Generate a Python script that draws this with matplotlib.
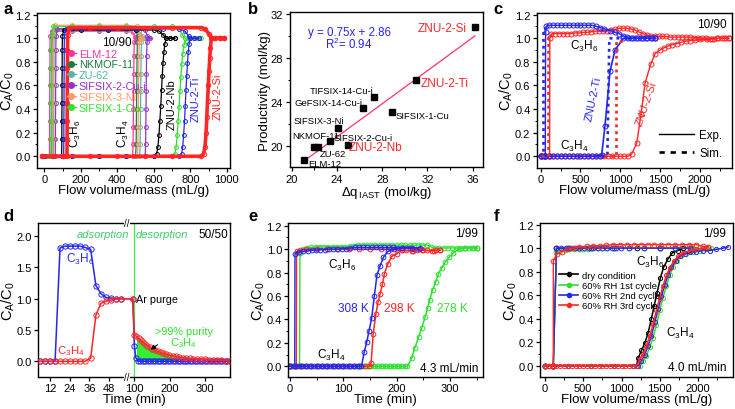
import numpy as np
import matplotlib
matplotlib.use("Agg")
import matplotlib.pyplot as plt
from matplotlib.lines import Line2D
from matplotlib.ticker import MultipleLocator, FixedLocator, NullLocator

plt.rcParams["font.family"] = ["Liberation Sans", "DejaVu Sans"]
plt.rcParams["mathtext.fontset"] = "custom"
plt.rcParams["mathtext.rm"] = "Liberation Sans"
plt.rcParams["mathtext.it"] = "Liberation Sans:italic"
plt.rcParams["mathtext.default"] = "regular"

RED = "#ff2626"
BLUE = "#2525ee"
GREEN = "#2ee02e"
PINK = "#ff3399"
DKGREEN = "#1d7b3f"
TEAL = "#5bb3a8"
PURPLE = "#9632c8"
ORANGE = "#ff9a66"
ADS_GREEN = "#3dcc6a"

C3H6 = "C$_3$H$_6$"
C3H4 = "C$_3$H$_4$"
CAC0 = "C$_A$/C$_0$"

# ---------------- panel a : breakthrough curves, 10/90 ----------------
a_names = ["ELM-12", "NKMOF-11", "ZU-62", "SIFSIX-2-Cu-i", "SIFSIX-3-Ni", "SIFSIX-1-Cu"]

a_elm_x6 = [0, 15, 28, 29, 29, 30, 30, 31, 31, 32, 40, 150, 300, 450, 485, 495, 505]
a_elm_y6 = [0, 0, 0, 0.15, 0.3, 0.45, 0.6, 0.75, 0.9, 1.02, 1.06, 1.06, 1.06, 1.06, 1.05, 1.01, 1.0]
a_elm_x4 = [0, 150, 300, 450, 484, 486, 487, 488, 489, 490, 491, 493, 500, 510]
a_elm_y4 = [0, 0, 0, 0, 0, 0.1, 0.25, 0.4, 0.55, 0.7, 0.85, 0.97, 1.0, 1.0]

a_nk_x6 = [0, 20, 40, 41, 41, 42, 42, 43, 43, 44, 52, 150, 300, 450, 500, 512, 520]
a_nk_y6 = [0, 0, 0, 0.15, 0.3, 0.45, 0.6, 0.75, 0.9, 1.02, 1.08, 1.08, 1.08, 1.08, 1.07, 1.02, 1.0]
a_nk_x4 = [0, 150, 300, 450, 500, 503, 504, 505, 506, 507, 508, 510, 516, 525]
a_nk_y4 = [0, 0, 0, 0, 0, 0.1, 0.25, 0.4, 0.55, 0.7, 0.85, 0.97, 1.0, 1.0]

a_zu_x6 = [0, 20, 50, 51, 51, 52, 52, 53, 53, 54, 62, 150, 300, 450, 520, 535, 545]
a_zu_y6 = [0, 0, 0, 0.15, 0.3, 0.45, 0.6, 0.75, 0.9, 1.02, 1.07, 1.07, 1.07, 1.07, 1.06, 1.02, 1.0]
a_zu_x4 = [0, 150, 300, 450, 522, 525, 526, 527, 528, 529, 530, 532, 540, 550]
a_zu_y4 = [0, 0, 0, 0, 0, 0.1, 0.25, 0.4, 0.55, 0.7, 0.85, 0.97, 1.0, 1.0]

a_s2_x6 = [0, 30, 60, 61, 61, 62, 62, 63, 63, 64, 72, 150, 300, 450, 550, 565, 575]
a_s2_y6 = [0, 0, 0, 0.15, 0.3, 0.45, 0.6, 0.75, 0.9, 1.02, 1.08, 1.08, 1.08, 1.08, 1.07, 1.02, 1.0]
a_s2_x4 = [0, 150, 300, 450, 552, 555, 556, 557, 558, 559, 560, 563, 570, 580]
a_s2_y4 = [0, 0, 0, 0, 0, 0.1, 0.25, 0.4, 0.55, 0.7, 0.85, 0.97, 1.0, 1.0]

a_s3_x6 = [0, 20, 44, 45, 45, 46, 46, 47, 47, 48, 56, 150, 300, 450, 510, 522, 530]
a_s3_y6 = [0, 0, 0, 0.15, 0.3, 0.45, 0.6, 0.75, 0.9, 1.04, 1.11, 1.11, 1.11, 1.11, 1.1, 1.03, 1.0]
a_s3_x4 = [0, 150, 300, 450, 510, 513, 514, 515, 516, 517, 518, 520, 526, 535]
a_s3_y4 = [0, 0, 0, 0, 0, 0.1, 0.25, 0.4, 0.55, 0.7, 0.85, 0.97, 1.0, 1.0]

a_s1_x6 = [0, 20, 36, 37, 37, 38, 38, 39, 39, 40, 48, 150, 300, 450, 600, 700, 740, 755, 770, 790]
a_s1_y6 = [0, 0, 0, 0.15, 0.3, 0.45, 0.6, 0.75, 0.9, 1.03, 1.1, 1.1, 1.1, 1.1, 1.1, 1.1, 1.08, 1.03, 1.0, 1.0]
a_s1_x4 = [0, 150, 300, 450, 600, 700, 715, 722, 728, 733, 738, 743, 748, 753, 758, 765, 775, 800, 830, 860]
a_s1_y4 = [0, 0, 0, 0, 0, 0, 0.02, 0.08, 0.18, 0.3, 0.42, 0.55, 0.67, 0.78, 0.87, 0.94, 0.98, 1.0, 1.0, 1.0]

a_nb_x6 = [0, 50, 95, 96, 96, 97, 97, 98, 98, 99, 106, 200, 350, 500, 600, 630, 650, 668, 690, 715]
a_nb_y6 = [0, 0, 0, 0.15, 0.3, 0.45, 0.6, 0.75, 0.9, 1.02, 1.07, 1.07, 1.07, 1.07, 1.07, 1.06, 1.03, 1.0, 1.0, 1.0]
a_nb_x4 = [0, 150, 300, 450, 600, 615, 622, 628, 633, 638, 642, 646, 650, 655, 660, 668, 690, 715]
a_nb_y4 = [0, 0, 0, 0, 0, 0.02, 0.08, 0.18, 0.3, 0.43, 0.56, 0.68, 0.79, 0.88, 0.95, 1.0, 1.0, 1.0]

a_ti_x6 = [0, 50, 106, 107, 107, 108, 108, 109, 109, 110, 118, 200, 350, 500, 650, 740, 770, 790, 800, 820, 845]
a_ti_y6 = [0, 0, 0, 0.15, 0.3, 0.45, 0.6, 0.75, 0.9, 1.02, 1.08, 1.08, 1.08, 1.08, 1.08, 1.08, 1.06, 1.02, 1.0, 1.0, 1.0]
a_ti_x4 = [0, 150, 300, 450, 600, 740, 752, 758, 763, 768, 772, 776, 780, 784, 788, 793, 800, 820, 845]
a_ti_y4 = [0, 0, 0, 0, 0, 0, 0.02, 0.08, 0.18, 0.3, 0.43, 0.56, 0.68, 0.79, 0.88, 0.95, 1.0, 1.0, 1.0]

a_si_x6 = [-10, 50, 100, 124, 125, 125, 126, 126, 127, 127, 128, 136, 250, 400, 550, 700, 860, 880, 900, 918, 935, 960, 985]
a_si_y6 = [0, 0, 0, 0, 0.15, 0.3, 0.45, 0.6, 0.75, 0.9, 1.03, 1.09, 1.09, 1.09, 1.09, 1.09, 1.09, 1.08, 1.04, 1.0, 1.0, 1.0, 1.0]
a_si_x4 = [-10, 100, 250, 400, 550, 700, 860, 872, 880, 886, 890, 894, 898, 902, 906, 910, 915, 935, 960, 985]
a_si_y4 = [0, 0, 0, 0, 0, 0, 0, 0.02, 0.08, 0.2, 0.33, 0.47, 0.6, 0.72, 0.83, 0.92, 1.0, 1.0, 1.0, 1.0]

# ---------------- panel b : productivity vs uptake difference ----------------
b_names = ["ELM-12", "NKMOF-11", "ZU-62", "SIFSIX-2-Cu-i", "SIFSIX-3-Ni", "ZNU-2-Nb",
           "GeFSIX-14-Cu-i", "TIFSIX-14-Cu-i", "SIFSIX-1-Cu", "ZNU-2-Ti", "ZNU-2-Si"]
b_dq = [21.1, 22.0, 22.35, 23.35, 24.1, 24.95, 26.3, 27.3, 28.9, 31.0, 36.2]
b_prod = [18.75, 19.95, 19.9, 20.45, 21.7, 20.15, 23.5, 24.5, 23.1, 26.0, 30.8]
b_slope = 0.75
b_intercept = 2.86
b_r2 = 0.94

# ---------------- panel c : experiment vs simulation ----------------
c_ti_x6 = [0, 25, 50, 58, 62, 70, 100, 150, 200, 250, 300, 350, 400, 450, 500, 550, 600, 650,
           700, 750, 800, 870, 930, 980, 1040, 1080, 1140, 1200, 1260, 1320, 1380, 1440]
c_ti_y6 = [0, 0, 0, 0, 1.05, 1.1, 1.11, 1.11, 1.11, 1.11, 1.11, 1.11, 1.11, 1.11, 1.11, 1.11, 1.11, 1.11,
           1.1, 1.09, 1.08, 1.065, 1.05, 1.04, 1.02, 1.01, 1.0, 1.0, 1.0, 1.0, 1.0, 1.0]
c_ti_x4 = [0, 50, 100, 150, 200, 250, 300, 350, 400, 450, 500, 550, 600, 650, 700, 740,
           766, 808, 871, 933, 1038, 1100, 1160, 1220, 1280, 1340, 1400, 1440]
c_ti_y4 = [0, 0, 0, 0, 0, 0, 0, 0, 0, 0, 0, 0, 0, 0, 0, 0,
           0.01, 0.26, 0.72, 0.9, 1.0, 1.0, 1.0, 1.0, 1.0, 1.0, 1.0, 1.0]
c_si_x6 = [0, 50, 100, 112, 115, 134,
           180, 230, 280, 330, 380, 430, 480, 530, 580, 630,
           680, 730, 780, 830, 880, 930, 980, 1030, 1080, 1130,
           1180, 1230, 1280, 1330, 1380, 1430, 1480, 1530, 1580, 1630,
           1680, 1730, 1780, 1830, 1880, 1930, 1980, 2030, 2080, 2130,
           2180, 2230, 2280, 2330, 2360]
c_si_y6 = [0, 0, 0, 0, 1.0, 1.037,
           1.04, 1.04, 1.04, 1.04, 1.04, 1.045, 1.045, 1.05, 1.05, 1.055,
           1.06, 1.06, 1.065, 1.065, 1.07, 1.075, 1.085, 1.085, 1.085, 1.08,
           1.07, 1.055, 1.04, 1.03, 1.02, 1.02, 1.015, 1.015, 1.015, 1.01,
           1.01, 1.01, 1.01, 1.01, 1.01, 1.005, 1.005, 1.0, 1.0, 0.995,
           0.995, 1.0, 1.0, 1.0, 1.0]
c_si_x4 = [0, 50, 100, 150, 200, 250, 300, 350, 400, 450, 500, 550, 600, 650, 700, 750, 800, 850,
           900, 950, 1000, 1050, 1100,
           1143, 1206, 1261, 1311, 1382, 1437, 1500, 1550, 1600, 1650, 1710, 1760, 1820, 1878,
           1940, 2000, 2088, 2150, 2220, 2298, 2360]
c_si_y4 = [0, 0, 0, 0, 0, 0, 0, 0, 0, 0, 0, 0, 0, 0, 0, 0, 0, 0,
           0, 0, 0, 0, 0,
           0.02, 0.11, 0.36, 0.62, 0.78, 0.87, 0.9, 0.92, 0.935, 0.945, 0.955, 0.965, 0.975, 0.98,
           0.985, 0.99, 0.99, 0.995, 1.0, 1.0, 1.0]
c_ti_sim_x6 = [0, 35, 35, 120]
c_ti_sim_y6 = [0, 0, 1.09, 1.09]
c_si_sim_x6 = [0, 88, 88, 140]
c_si_sim_y6 = [0, 0, 1.03, 1.03]
c_ti_sim_x4 = [600, 838, 862, 1000]
c_ti_sim_y4 = [0, 0, 1.0, 1.0]
c_si_sim_x4 = [800, 945, 945, 1050]
c_si_sim_y4 = [0, 0, 0.98, 0.98]

# ---------------- panel d : cycle with Ar purge, 50/50 ----------------
d_t6 = [5.9, 9.0, 12.0, 15.1, 18.1, 21.1, 24.2, 27.2, 30.3, 33.3, 36.8, 40.0, 43.1, 46.1, 49.2, 52.2, 55.3,
        95.5, 100, 104, 110, 117, 124, 131, 138, 145, 152, 159, 166, 173, 180, 187, 194, 201, 208,
        215, 222, 229, 236, 243, 250, 257, 264, 271, 278, 285, 292, 299, 306, 313, 320, 327, 334,
        341, 348, 355, 362, 369]
d_y6 = [0, 0, 0, 0, 1.81, 1.84, 1.84, 1.84, 1.84, 1.82, 1.79, 1.21, 1.08, 1.02, 1.01, 1.0, 1.0,
        1.0, 0.25, 0.06, 0.01, 0, 0, 0, 0, 0, 0, 0, 0, 0, 0, 0, 0, 0, 0,
        0, 0, 0, 0, 0, 0, 0, 0, 0, 0, 0, 0, 0, 0, 0, 0, 0, 0,
        0, 0, 0, 0, 0]
d_t4 = [5.9, 9.0, 12.0, 15.1, 18.1, 21.1, 24.2, 27.2, 30.3, 33.3, 36.8, 40.0, 43.1, 46.1, 49.2, 52.2, 55.3,
        95.5, 100, 106, 112, 118, 124, 130, 137, 144, 151, 158, 166, 174, 182, 190, 199, 208,
        217, 226, 236, 246, 256, 266, 277, 288, 299, 310, 322, 334, 346, 358, 370]
d_y4 = [0, 0, 0, 0, 0, 0, 0, 0, 0, 0, 0.05, 0.74, 0.93, 0.96, 0.98, 0.995, 1.0,
        1.0, 0.42, 0.40, 0.37, 0.34, 0.31, 0.28, 0.25, 0.225, 0.20, 0.18, 0.16, 0.145, 0.13, 0.115, 0.10, 0.09,
        0.08, 0.07, 0.06, 0.055, 0.05, 0.045, 0.04, 0.035, 0.03, 0.025, 0.02, 0.018, 0.015, 0.012, 0.01]
d_purge_t = 97.8
d_pure_from = 104
d_pure_to = 230

# ---------------- panel e : temperature, 1/99 ----------------
e_b_x6 = [0, 9, 9.5, 17, 25, 33, 41, 49, 57, 65, 73, 81, 89, 97, 105, 113, 121, 129, 137, 145, 153,
          161, 169, 177, 185, 193, 201, 209, 217, 225, 233, 241]
e_b_y6 = [0, 0, 0.96, 0.975, 0.98, 0.985, 0.99, 0.99, 0.995, 0.995, 1.0, 1.0, 1.0, 1.005, 1.005, 1.01,
          1.015, 1.015, 1.015, 1.015, 1.015, 1.015, 1.015, 1.015, 1.015, 1.015,
          1.01, 1.01, 1.01, 1.01, 1.0, 1.0]
e_b_x4 = [0, 5, 10, 15, 20, 25, 30, 35, 40, 45, 50, 55, 60, 65, 70, 75, 80, 85, 90, 95, 100, 105,
          110, 115, 120, 125, 130, 134, 139, 144, 148, 153, 158, 163, 169, 175, 183, 194, 209, 228, 244]
e_b_y4 = [0, 0, 0, 0, 0, 0, 0, 0, 0, 0, 0, 0, 0, 0, 0, 0, 0, 0, 0, 0, 0, 0,
          0, 0, 0, 0, 0, 0, 0.12, 0.21, 0.3, 0.41, 0.6, 0.78, 0.86, 0.93, 0.98, 1.0, 1.01, 1.01, 1.01]
e_r_x6 = [0, 12, 12.5, 18, 30, 50, 70, 90, 110, 130, 150, 170, 190, 210, 230, 250, 270, 281]
e_r_y6 = [0, 0, 0.98, 0.99, 1.0, 1.0, 1.0, 1.0, 1.0, 1.0, 1.0, 1.0, 1.0, 0.99, 0.985, 0.99, 0.985, 0.99]
e_r_x4 = [0, 10, 20, 30, 40, 50, 60, 70, 80, 90, 100, 110, 120, 130, 140, 148,
          152, 156, 161, 165, 169, 173, 177, 183, 191, 200, 209, 218, 228, 237, 247, 256, 266, 274, 281]
e_r_y4 = [0, 0, 0, 0, 0, 0, 0, 0, 0, 0, 0, 0, 0, 0, 0, 0,
          0.03, 0.28, 0.45, 0.55, 0.62, 0.7, 0.79, 0.87, 0.94, 0.96, 0.99, 0.99, 0.985, 0.99, 0.995,
          0.99, 0.985, 0.99, 0.99]
e_g_x6 = [0, 18, 18.8, 24, 32, 40, 48, 56, 64, 72, 80, 88, 96, 104, 112, 120, 128, 136, 144, 152, 160,
          168, 176, 184, 192, 200, 208, 216, 224, 232, 240, 248, 256, 264, 272, 280, 288, 296, 304,
          312, 320, 328, 336, 344, 350]
e_g_y6 = [0, 0, 0.97, 1.0, 1.01, 1.015, 1.02, 1.02, 1.02, 1.02, 1.02, 1.02, 1.02, 1.02, 1.025, 1.03,
          1.035, 1.035, 1.035, 1.035, 1.035, 1.035, 1.035, 1.035, 1.035, 1.035, 1.035, 1.035, 1.035,
          1.035, 1.035, 1.035, 1.035, 1.02, 1.01, 1.01, 1.01, 1.01, 1.01, 1.01, 1.01, 1.01, 1.01, 1.01, 1.01]
e_g_x4 = [0, 10, 20, 30, 40, 50, 60, 70, 80, 90, 100, 110, 120, 130,
          135, 140, 145, 150, 155, 160, 165, 170, 175, 180, 185, 190, 195, 200, 205, 210, 215,
          220, 228, 234, 241, 247, 253, 258, 262, 267, 273, 278, 284, 291, 298, 306, 316, 328, 340, 350]
e_g_y4 = [0, 0, 0, 0, 0, 0, 0, 0, 0, 0, 0, 0, 0, 0,
          0, 0, 0, 0, 0, 0, 0, 0, 0, 0, 0, 0, 0, 0, 0, 0, 0,
          0, 0.07, 0.16, 0.25, 0.33, 0.42, 0.5, 0.57, 0.65, 0.72, 0.79, 0.84, 0.89, 0.93, 0.97, 1.0,
          1.01, 1.01, 1.01]
e_labels = ["308 K", "298 K", "278 K"]

# ---------------- panel f : humidity cycles, 1/99 ----------------
f_labels = ["dry condition", "60% RH 1st cycle", "60% RH 2nd cycle", "60% RH 3rd cycle"]
f_k_x6 = [0, 100, 109, 150, 300, 600, 900, 1200, 1500, 1800, 1913]
f_k_y6 = [0, 0, 0, 1.0, 1.0, 1.0, 1.0, 1.0, 1.0, 1.0, 1.0]
f_k_x4 = [0, 300, 600, 900, 1150, 1196, 1217, 1261, 1304, 1348, 1391, 1426, 1465, 1509, 1552,
          1609, 1665, 1739, 1804, 1913]
f_k_y4 = [0, 0, 0, 0, 0, 0, 0.065, 0.13, 0.19, 0.28, 0.4, 0.51, 0.62, 0.75, 0.84,
          0.91, 0.96, 0.98, 1.0, 1.0]
f_g_x6 = [0, 100, 109, 150, 200, 260, 320, 380, 440, 500, 560, 620, 680, 740, 800, 900, 1100,
          1300, 1500, 1700, 1900, 2100]
f_g_y6 = [0, 0, 0, 0.97, 0.98, 0.985, 0.99, 0.99, 0.99, 0.995, 0.995, 1.0, 1.0, 1.0, 1.0, 1.0, 1.0,
          1.0, 1.0, 1.0, 1.0, 1.0]
f_g_x4 = [0, 300, 600, 900, 1150, 1239, 1283, 1326, 1370, 1413, 1457, 1500, 1543, 1587, 1630,
          1674, 1726, 1783, 1848, 1935, 2022, 2109, 2174]
f_g_y4 = [0, 0, 0, 0, 0, 0, 0.04, 0.085, 0.16, 0.24, 0.35, 0.47, 0.58, 0.68, 0.77,
          0.84, 0.89, 0.93, 0.95, 0.97, 0.98, 0.99, 1.0]
f_b_x6 = [0, 100, 109, 150, 210, 270, 330, 390, 450, 510, 570, 630, 690, 750, 810, 870, 930, 990,
          1100, 1300, 1500, 1700, 1900]
f_b_y6 = [0, 0, 0, 1.0, 1.0, 1.0, 1.0, 1.0, 1.0, 1.0, 1.0, 1.0, 1.0, 1.0, 1.0, 1.0, 1.0, 1.0,
          1.0, 1.0, 1.0, 1.0, 1.0]
f_b_x4 = [0, 300, 600, 900, 1150, 1217, 1261, 1304, 1348, 1391, 1435, 1478, 1522, 1565, 1609,
          1652, 1709, 1761, 1826, 1891, 1978, 2065, 2152, 2239, 2326, 2391]
f_b_y4 = [0, 0, 0, 0, 0, 0, 0.043, 0.094, 0.17, 0.255, 0.37, 0.48, 0.59, 0.69, 0.77,
          0.84, 0.89, 0.93, 0.95, 0.965, 0.97, 0.98, 0.98, 0.99, 1.0, 1.01]
f_r_x6 = [0, 50, 100, 109, 109, 152, 217, 283, 370, 450, 543, 630, 717, 800, 891, 980, 1070, 1160,
          1250, 1340, 1430, 1520, 1610, 1700, 1790, 1880, 1978, 2065, 2130]
f_r_y6 = [0, 0, 0, 0, 0.89, 0.95, 0.97, 0.99, 1.0, 1.01, 1.015, 1.02, 1.02, 1.025, 1.03, 1.03, 1.03,
          1.03, 1.03, 1.03, 1.03, 1.03, 1.03, 1.03, 1.03, 1.03, 1.03, 1.015, 1.01]
f_r_x4 = [0, 50, 100, 150, 200, 250, 300, 350, 400, 450, 500, 550, 600, 650, 700, 750, 800, 850,
          900, 950, 1000, 1050, 1100, 1150,
          1196, 1239, 1283, 1326, 1370, 1413, 1457, 1500, 1543, 1587, 1630, 1683, 1739, 1804,
          1891, 1978, 2065, 2130]
f_r_y4 = [0, 0, 0, 0, 0, 0, 0, 0, 0, 0, 0, 0, 0, 0, 0, 0, 0, 0,
          0, 0, 0, 0, 0, 0,
          0, 0.057, 0.1, 0.17, 0.255, 0.355, 0.47, 0.58, 0.68, 0.77, 0.83, 0.89, 0.93, 0.96,
          0.98, 0.99, 1.0, 1.01]


W, H = 735, 410
fig = plt.figure(figsize=(W / 100, H / 100), dpi=100)


def add_panel(left, right, top, bottom):
    return fig.add_axes([left / W, 1 - bottom / H, (right - left) / W, (bottom - top) / H])


def style(ax):
    for s in ax.spines.values():
        s.set_linewidth(1.0)
    ax.tick_params(direction="out", length=3, width=0.9, labelsize=8, pad=1.5)
    ax.tick_params(which="minor", direction="out", length=1.8, width=0.7)


def curve(ax, x, y, color, lw=0.9, ms=3.0, mfc="none", z=2, mew=0.7):
    ax.plot(x, y, "-", color=color, lw=lw, marker="o", ms=ms, mfc=mfc, mew=mew, zorder=z)


def ylab(ax, text, xpos, size=10.5):
    ax.set_ylabel(text, fontsize=size)
    ax.yaxis.set_label_coords(xpos, 0.5)


def xlab(ax, text):
    ax.set_xlabel(text, fontsize=9.5, labelpad=0)


def letter(x, y, s):
    fig.text(x / W, 1 - y / H, s, fontsize=12, fontweight="bold", ha="left", va="center")


# ---------- a ----------
ax = add_panel(37, 230, 14, 168.5)
style(ax)
a_curves = [
    (a_elm_x6, a_elm_y6, a_elm_x4, a_elm_y4, PINK),
    (a_nk_x6, a_nk_y6, a_nk_x4, a_nk_y4, DKGREEN),
    (a_zu_x6, a_zu_y6, a_zu_x4, a_zu_y4, TEAL),
    (a_s2_x6, a_s2_y6, a_s2_x4, a_s2_y4, PURPLE),
    (a_s3_x6, a_s3_y6, a_s3_x4, a_s3_y4, ORANGE),
    (a_s1_x6, a_s1_y6, a_s1_x4, a_s1_y4, GREEN),
    (a_nb_x6, a_nb_y6, a_nb_x4, a_nb_y4, "k"),
    (a_ti_x6, a_ti_y6, a_ti_x4, a_ti_y4, BLUE),
]
for x6, y6, x4, y4, c in a_curves:
    curve(ax, x6, y6, c, lw=0.9, ms=2.8)
    curve(ax, x4, y4, c, lw=0.9, ms=2.8)
curve(ax, a_si_x6, a_si_y6, RED, lw=2.6, ms=3.2, z=5)
curve(ax, a_si_x4, a_si_y4, RED, lw=2.6, ms=3.2, z=5)
handles = [Line2D([], [], color=c, marker="o", ms=4, lw=1)
           for c in [PINK, DKGREEN, TEAL, PURPLE, ORANGE, GREEN]]
leg = ax.legend(handles, a_names, loc="upper left", bbox_to_anchor=(0.155, 0.77), frameon=False,
                fontsize=7.8, handlelength=0.8, handletextpad=0.3, labelspacing=0.08,
                borderpad=0, borderaxespad=0, labelcolor="linecolor")
leg.set_zorder(6)
ax.text(480, 0.97, "10/90", ha="right", va="center", fontsize=8.5)
ax.text(168, 0.2, C3H6, rotation=90, ha="center", va="center", fontsize=8.5)
ax.text(433, 0.2, C3H4, rotation=90, ha="center", va="center", fontsize=8.5)
ax.text(695, 0.45, "ZNU-2-Nb", rotation=90, ha="center", va="center", fontsize=8, color="k")
ax.text(828, 0.49, "ZNU-2-Ti", rotation=90, ha="center", va="center", fontsize=8, color=BLUE)
ax.text(950, 0.51, "ZNU-2-Si", rotation=90, ha="center", va="center", fontsize=8, color=RED)
ax.set_xlim(-40, 1017)
ax.set_ylim(-0.095, 1.214)
ax.xaxis.set_major_locator(MultipleLocator(200))
ax.xaxis.set_minor_locator(MultipleLocator(100))
ax.yaxis.set_major_locator(MultipleLocator(0.2))
ax.yaxis.set_minor_locator(MultipleLocator(0.1))
xlab(ax, "Flow volume/mass (mL/g)")
ylab(ax, CAC0, -0.109)
letter(3, 10, "a")

# ---------- b ----------
ax = add_panel(289.5, 483.3, 13.3, 168.3)
style(ax)
xf = np.array([min(b_dq), max(b_dq)])
ax.plot(xf, b_slope * xf + b_intercept, color="#ff3366", lw=0.9, zorder=2)
ax.plot(b_dq, b_prod, "s", color="k", ms=3.8, zorder=3)
b_label_pos = [(21.45, 18.42), (20.0, 20.97), (22.5, 19.37), (23.74, 20.82), (20.2, 22.33), (25.05, 19.95),
               (20.2, 24.0), (21.56, 25.05), (29.15, 22.8), (31.4, 25.75), (31.15, 30.7)]
for name, (tx, ty) in zip(b_names, b_label_pos):
    if name.startswith("ZNU"):
        ax.text(tx, ty, name, color=RED, fontsize=8.5, ha="left", va="center")
    else:
        ax.text(tx, ty, name, color="k", fontsize=6.8, ha="left", va="center")
ax.text(21.45, 30.4, f"y = {b_slope:.2f}x + {b_intercept:.2f}", color=BLUE, fontsize=8.3,
        ha="left", va="center")
ax.text(22.95, 29.3, f"R$^2$= {b_r2:.2f}", color=BLUE, fontsize=8.3, ha="left", va="center")
ax.set_xlim(19.8, 36.94)
ax.set_ylim(18.1, 32.15)
ax.xaxis.set_major_locator(MultipleLocator(4))
ax.xaxis.set_minor_locator(MultipleLocator(2))
ax.yaxis.set_major_locator(MultipleLocator(4))
ax.yaxis.set_minor_locator(MultipleLocator(2))
xlab(ax, "$\\Delta$q$_{\\,IAST}$ (mol/kg)")
ylab(ax, "Productivity (mol/kg)", -0.093, size=9.5)
letter(248, 9, "b")

# ---------- c ----------
ax = add_panel(536.7, 732, 14, 168.5)
style(ax)
dots = (0, (1.1, 1.5))
for sx, sy, c in [(c_ti_sim_x6, c_ti_sim_y6, BLUE), (c_si_sim_x6, c_si_sim_y6, RED),
                  (c_ti_sim_x4, c_ti_sim_y4, BLUE), (c_si_sim_x4, c_si_sim_y4, RED)]:
    ax.plot(sx, sy, color=c, lw=1.9, ls=dots, zorder=3)
curve(ax, c_si_x6, c_si_y6, RED, lw=1.0, ms=3.6)
curve(ax, c_si_x4, c_si_y4, RED, lw=1.0, ms=3.6)
curve(ax, c_ti_x6, c_ti_y6, BLUE, lw=1.0, ms=3.6)
curve(ax, c_ti_x4, c_ti_y4, BLUE, lw=1.2, ms=3.6)
ax.legend([Line2D([], [], color="k", lw=1.0), Line2D([], [], color="k", lw=1.9, ls=(0, (2, 2.2)))],
          ["Exp.", "Sim."], loc="lower right", bbox_to_anchor=(0.98, 0.02), frameon=False,
          fontsize=8.3, handlelength=3.0, handletextpad=0.5, labelspacing=0.5, borderpad=0)
ax.text(2340, 1.12, "10/90", ha="right", va="center", fontsize=8.5)
ax.text(368, 0.94, C3H6, ha="left", va="center", fontsize=8.5)
ax.text(243, 0.09, C3H4, ha="left", va="center", fontsize=8.5)
ax.text(668, 0.49, "ZNU-2-Ti", rotation=78, ha="center", va="center", fontsize=8, color=BLUE)
ax.text(1331, 0.45, "ZNU-2-Si", rotation=71, ha="center", va="center", fontsize=8, color=RED)
ax.set_xlim(-50, 2403)
ax.set_ylim(-0.095, 1.214)
ax.xaxis.set_major_locator(MultipleLocator(500))
ax.xaxis.set_minor_locator(MultipleLocator(250))
ax.yaxis.set_major_locator(MultipleLocator(0.2))
ax.yaxis.set_minor_locator(MultipleLocator(0.1))
xlab(ax, "Flow volume/mass (mL/g)")
ylab(ax, CAC0, -0.109)
letter(493, 9, "c")

# ---------- d (broken time axis) ----------
T1, T2, RATIO = 58.8, 78.5, 0.216


def fwd(t):
    t = np.asarray(t, dtype=float)
    return np.where(t <= T1, t, np.where(t >= T2, T1 + (t - T2) * RATIO, T1))


def inv(u):
    u = np.asarray(u, dtype=float)
    return np.where(u <= T1, u, T2 + (u - T1) / RATIO)


ax = add_panel(38, 230, 224, 378)
style(ax)
ax.set_xscale("function", functions=(fwd, inv))
t4 = np.array(d_t4)
y4 = np.array(d_y4)
m = (t4 >= d_pure_from) & (t4 <= d_pure_to)
ax.fill_between(t4[m], 0, y4[m], color="#33ee33", lw=0, zorder=1)
ax.axvline(d_purge_t, color="#44ee44", lw=0.9, zorder=1)
curve(ax, d_t6, d_y6, BLUE, lw=1.1, ms=3.8)
curve(ax, d_t4, d_y4, RED, lw=1.1, ms=3.8, z=3)
ax.set_xlim(4.68, 370)
ax.set_ylim(-0.25, 2.21)
ax.xaxis.set_major_locator(FixedLocator([12, 24, 36, 48, 100, 200, 300]))
ax.xaxis.set_minor_locator(NullLocator())
ax.yaxis.set_major_locator(MultipleLocator(0.5))
for yy in (0, 1):
    ax.text(T1, yy, "//", transform=ax.get_xaxis_transform(), ha="center", va="center",
            fontsize=7, bbox=dict(fc="white", ec="none", pad=0.2), zorder=10, clip_on=False)
ax.text(44.5, 2.04, "adsorption", color=ADS_GREEN, fontstyle="italic", fontsize=8,
        ha="center", va="center")
ax.text(177, 2.04, "desorption", color=ADS_GREEN, fontstyle="italic", fontsize=8,
        ha="center", va="center")
ax.text(364, 2.04, "50/50", ha="right", va="center", fontsize=8.5)
ax.text(21.8, 1.64, C3H6, color=BLUE, ha="left", va="center", fontsize=8.5, zorder=6)
ax.text(16.5, 0.18, C3H4, color=RED, ha="left", va="center", fontsize=8.2, zorder=6)
ax.text(104, 1.0, "Ar purge", ha="left", va="center", fontsize=7.8)
ax.text(158, 0.48, ">99% purity", color=GREEN, ha="left", va="center", fontsize=7.8)
ax.text(200, 0.30, C3H4, color=GREEN, ha="left", va="center", fontsize=8)
ax.annotate("", xy=(139, 0.16), xytext=(172, 0.29),
            arrowprops=dict(arrowstyle="-|>", color="k", lw=0.8, mutation_scale=7))
xlab(ax, "Time (min)")
ylab(ax, CAC0, -0.109)
letter(3, 217, "d")

# ---------- e ----------
ax = add_panel(288.3, 483.3, 224, 378)
style(ax)
curve(ax, e_g_x6, e_g_y6, GREEN, lw=1.0, ms=3.4)
curve(ax, e_r_x6, e_r_y6, RED, lw=1.0, ms=3.4)
curve(ax, e_b_x6, e_b_y6, BLUE, lw=1.0, ms=3.4)
curve(ax, e_g_x4, e_g_y4, GREEN, lw=1.1, ms=3.4)
curve(ax, e_r_x4, e_r_y4, RED, lw=1.1, ms=3.4)
curve(ax, e_b_x4, e_b_y4, BLUE, lw=1.1, ms=3.4)
ax.text(352, 1.137, "1/99", ha="right", va="center", fontsize=8.5)
ax.text(72, 0.87, C3H6, ha="left", va="center", fontsize=8.5)
ax.text(50, 0.105, C3H4, ha="left", va="center", fontsize=8.5)
for lab, tx, c in zip(e_labels, [90.6, 177, 275], [BLUE, RED, GREEN]):
    ax.text(tx, 0.50, lab, color=c, ha="left", va="center", fontsize=8.5)
ax.text(352, -0.01, "4.3 mL/min", ha="right", va="center", fontsize=8.5)
ax.set_xlim(-3, 362)
ax.set_ylim(-0.091, 1.223)
ax.xaxis.set_major_locator(MultipleLocator(100))
ax.xaxis.set_minor_locator(MultipleLocator(50))
ax.yaxis.set_major_locator(MultipleLocator(0.2))
ax.yaxis.set_minor_locator(MultipleLocator(0.1))
xlab(ax, "Time (min)")
ylab(ax, CAC0, -0.109)
letter(248, 217, "e")

# ---------- f ----------
ax = add_panel(540, 733, 224, 378)
style(ax)
f_sets = [(f_k_x6, f_k_y6, f_k_x4, f_k_y4, "k"),
          (f_g_x6, f_g_y6, f_g_x4, f_g_y4, GREEN),
          (f_b_x6, f_b_y6, f_b_x4, f_b_y4, BLUE),
          (f_r_x6, f_r_y6, f_r_x4, f_r_y4, RED)]
for x6, y6, x4, y4, c in f_sets:
    curve(ax, x6, y6, c, lw=1.0, ms=3.4)
    curve(ax, x4, y4, c, lw=1.1, ms=3.0)
handles = [Line2D([], [], color=c, marker="o", ms=3, lw=1.2) for c in ["k", GREEN, BLUE, RED]]
leg = ax.legend(handles, f_labels, loc="upper left", bbox_to_anchor=(0.1, 0.69), frameon=False,
                fontsize=6.8, handlelength=2.0, handletextpad=0.4, labelspacing=0.12,
                borderpad=0, borderaxespad=0)
leg.set_zorder(6)
ax.text(2369, 1.128, "1/99", ha="right", va="center", fontsize=8.5)
ax.text(1196, 0.89, C3H6, ha="left", va="center", fontsize=8.5)
ax.text(1587, 0.28, C3H4, ha="left", va="center", fontsize=8.5)
ax.text(2369, -0.01, "4.0 mL/min", ha="right", va="center", fontsize=8.5)
ax.set_xlim(-65, 2457)
ax.set_ylim(-0.096, 1.214)
ax.xaxis.set_major_locator(MultipleLocator(500))
ax.xaxis.set_minor_locator(MultipleLocator(250))
ax.yaxis.set_major_locator(MultipleLocator(0.2))
ax.yaxis.set_minor_locator(MultipleLocator(0.1))
xlab(ax, "Flow volume/mass (mL/g)")
ylab(ax, CAC0, -0.109)
letter(494, 217, "f")

fig.savefig("out.png", dpi=100)
